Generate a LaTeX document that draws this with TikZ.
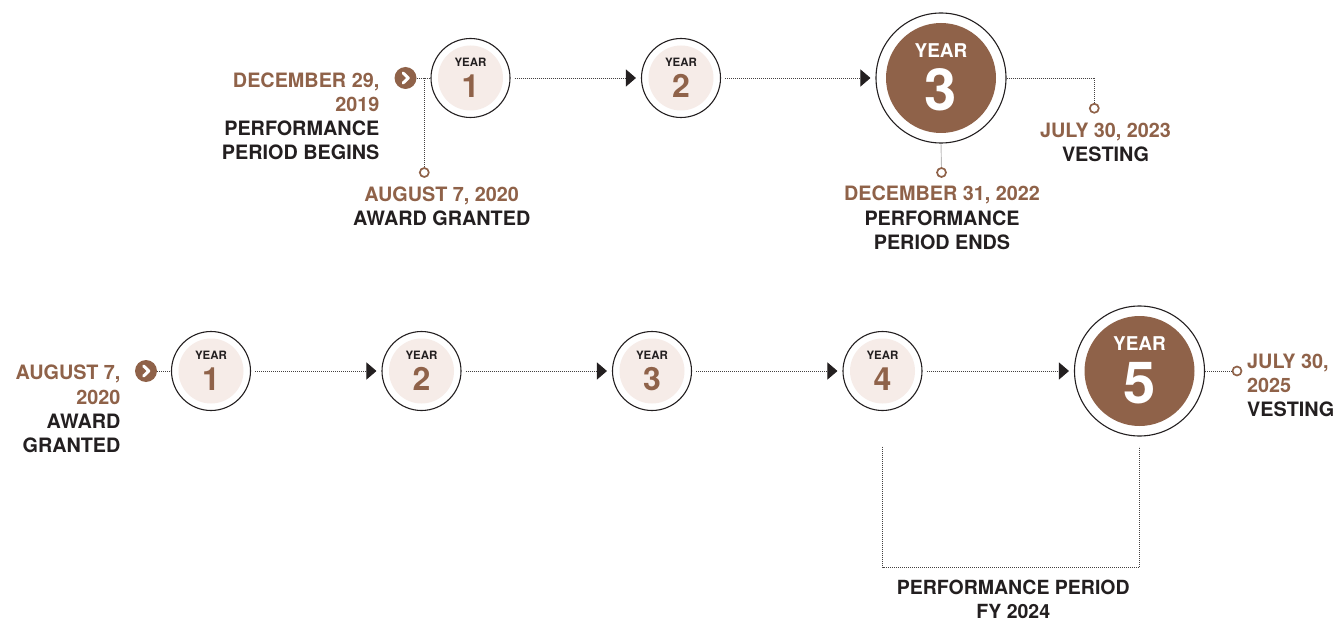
\documentclass[tikz,border=0pt]{standalone}
\usepackage{fontspec}
\setmainfont{TeX Gyre Heros}
\usetikzlibrary{arrows.meta}
\definecolor{brn}{HTML}{8F6249}
\definecolor{lite}{HTML}{F6ECE8}
\definecolor{ink}{HTML}{231F20}
\newcommand\yrsmall[4]{%
  \node[ring=79pt] (#1) at (#2,#3) {};
  \fill[lite] (#1.center) circle (32.5pt);
  \node[yrs] (#1y) at (#2,{#3-16}) {YEAR};
  \node[nums] (#1n) at (#2,{#3+8}) {#4};}
\newcommand\yrbig[4]{%
  \node[ring=130pt] (#1) at (#2,#3) {};
  \fill[brn] (#1.center) circle (55pt);
  \node[yrb] (#1y) at (#2,{#3-27}) {YEAR};
  \node[numb] (#1n) at (#2,{#3+12}) {#4};}
\newcommand\chev[3]{%
  \node[chevc] (#1) at (#2,#3) {};
  \draw[white,line width=3pt,line cap=round,line join=round]
    ([xshift=-2.4pt,yshift=5pt]#1.center) -- ([xshift=2.8pt]#1.center) -- ([xshift=-2.4pt,yshift=-5pt]#1.center);}
\begin{document}
\begin{tikzpicture}[x=1pt,y=-1pt,
  ring/.style={circle,draw=ink,line width=1.1pt,fill=white,inner sep=0pt,minimum size=#1},
  yrs/.style={font=\bfseries\fontsize{11.5}{12}\selectfont,text=ink,inner sep=0pt},
  nums/.style={font=\bfseries\fontsize{32}{34}\selectfont,text=brn,inner sep=0pt},
  yrb/.style={font=\bfseries\fontsize{19}{20}\selectfont,text=white,inner sep=0pt},
  numb/.style={font=\bfseries\fontsize{58}{60}\selectfont,text=white,inner sep=0pt},
  chevc/.style={circle,fill=brn,minimum size=22pt,inner sep=0pt},
  dotc/.style={circle,draw=brn,line width=1.7pt,fill=white,minimum size=9pt,inner sep=0pt},
  dotl/.style={draw=ink!85,line width=0.9pt,dash pattern=on 0.9pt off 1.1pt},
  arr/.style={dotl,shorten <=4pt,shorten >=5pt,-{Triangle[length=10pt,width=17pt,fill=ink,color=ink]}},
  lbl/.style={font=\bfseries\fontsize{19.8}{24.2}\selectfont,text=ink,inner sep=0pt}]
\useasboundingbox (0,0) rectangle (1334,623);

% ---------- top timeline ----------
\yrsmall{a1}{470.5}{78}{1}
\yrsmall{a2}{681}{78}{2}
\yrbig{a3}{941}{78}{3}
\chev{ca}{405.5}{78}
\node[dotc] (sa) at (424.3,172.5) {};
\node[dotc] (sb) at (941.5,172.5) {};
\node[dotc] (sc) at (1094.3,108.3) {};
\coordinate (ja) at (424.3,78);

\draw[dotl] (ca.east) -- (a1.west);
\draw[dotl] (ja) -- (sa.north);
\draw[arr] (a1.east) -- (a2.west);
\draw[arr] (a2.east) -- (a3.west);
\draw[dotl] (a3.south) -- (sb.north);
\draw[dotl] (a3.east) -| (sc.north);

\node[lbl,align=right,anchor=north east] (ta) at (379.5,72.5)
  {\textcolor{brn}{DECEMBER 29,}\\\textcolor{brn}{2019}\\PERFORMANCE\\PERIOD BEGINS};
\node[lbl,align=center,anchor=north] (tb) at (441.7,186.5)
  {\textcolor{brn}{AUGUST 7, 2020}\\AWARD GRANTED};
\node[lbl,align=center,anchor=north] (tc) at (942,186)
  {\textcolor{brn}{DECEMBER 31, 2022}\\PERFORMANCE\\PERIOD ENDS};
\node[lbl,align=center,anchor=north] (td) at (1105.5,123)
  {\textcolor{brn}{JULY 30, 2023}\\VESTING};

% ---------- bottom timeline ----------
\yrsmall{b1}{211}{371}{1}
\yrsmall{b2}{421.5}{371}{2}
\yrsmall{b3}{652}{371}{3}
\yrsmall{b4}{882.5}{371}{4}
\yrbig{b5}{1139.5}{371}{5}
\chev{cb}{146}{371}
\node[dotc] (se) at (1237,371) {};

\draw[dotl] (cb.east) -- (b1.west);
\draw[arr] (b1.east) -- (b2.west);
\draw[arr] (b2.east) -- (b3.west);
\draw[arr] (b3.east) -- (b4.west);
\draw[arr] (b4.east) -- (b5.west);
\draw[dotl] (b5.east) -- (se.west);

\coordinate (k1) at (882.5,446.5);
\coordinate (k2) at (1139.5,446.5);
\draw[dotl] (k1) -- (882.5,567) -- (1139.5,567) -- (k2);

\node[lbl,align=right,anchor=north east] (te) at (120.7,365)
  {\textcolor{brn}{AUGUST 7,}\\\textcolor{brn}{2020}\\AWARD\\GRANTED};
\node[lbl,align=left,anchor=north west] (tf) at (1247,353.5)
  {\textcolor{brn}{JULY 30,}\\\textcolor{brn}{2025}\\VESTING};
\node[lbl,align=center,anchor=north,font=\bfseries\fontsize{19.5}{23.4}\selectfont] (tg) at (1013.3,580)
  {PERFORMANCE PERIOD\\FY 2024};
\end{tikzpicture}
\end{document}
